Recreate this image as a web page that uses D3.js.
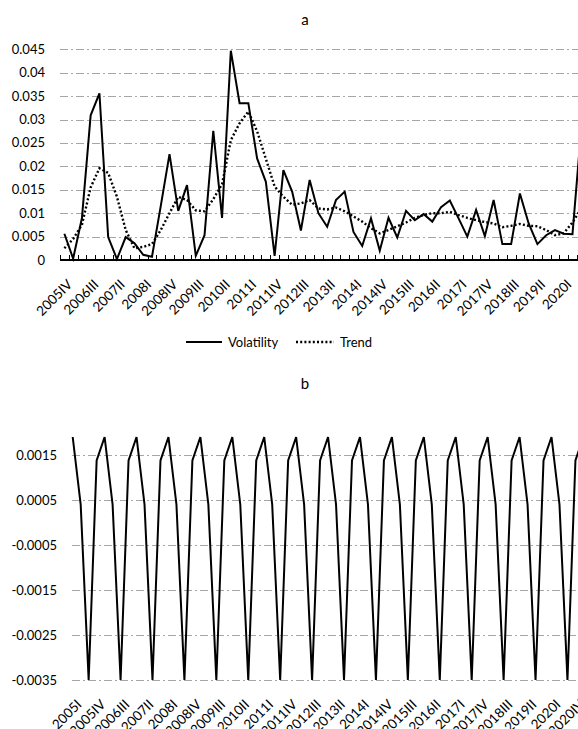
<!DOCTYPE html>
<meta charset="utf-8">
<style>
  body {
    margin: 0;
    background: #fff;
  }

  svg {
    display: block;
    font-family: Lato, "Open Sans", sans-serif;
  }

  .grid line {
    stroke: #a6a6a6;
    stroke-width: 1;
    stroke-dasharray: 8, 3, 2, 3;
  }

  .lbl {
    font-size: 13px;
    fill: #000;
  }

  .xl {
    font-size: 13.5px;
  }

  .title {
    font-size: 15px;
    fill: #000;
  }
</style>

<body>
  <div id="chart"></div>

  <script src="https://cdnjs.cloudflare.com/ajax/libs/d3/7.8.5/d3.min.js"></script>
  <script>
    // ---- data ----
    // panel a : 2005IV .. 2020III
    var quartersA = ["2005IV",
      "2006I", "2006II", "2006III", "2006IV",
      "2007I", "2007II", "2007III", "2007IV",
      "2008I", "2008II", "2008III", "2008IV",
      "2009I", "2009II", "2009III", "2009IV",
      "2010I", "2010II", "2010III", "2010IV",
      "2011I", "2011II", "2011III", "2011IV",
      "2012I", "2012II", "2012III", "2012IV",
      "2013I", "2013II", "2013III", "2013IV",
      "2014I", "2014II", "2014III", "2014IV",
      "2015I", "2015II", "2015III", "2015IV",
      "2016I", "2016II", "2016III", "2016IV",
      "2017I", "2017II", "2017III", "2017IV",
      "2018I", "2018II", "2018III", "2018IV",
      "2019I", "2019II", "2019III", "2019IV",
      "2020I", "2020II", "2020III"
    ];

    var volatility = [0.0056,
      0.0003, 0.0089, 0.0309, 0.0356,
      0.0049, 0.0002, 0.0049, 0.0036,
      0.0011, 0.0007, 0.0115, 0.0226,
      0.0105, 0.0160, 0.0009, 0.0053,
      0.0276, 0.0090, 0.0447, 0.0335,
      0.0335, 0.0217, 0.0167, 0.0009,
      0.0192, 0.0146, 0.0063, 0.0171,
      0.0100, 0.0071, 0.0128, 0.0146,
      0.0060, 0.0030, 0.0089, 0.0020,
      0.0090, 0.0048, 0.0105, 0.0085,
      0.0098, 0.0082, 0.0113, 0.0127,
      0.0089, 0.0050, 0.0107, 0.0051,
      0.0128, 0.0034, 0.0034, 0.0142,
      0.0078, 0.0034, 0.0053, 0.0064,
      0.0056, 0.0055, 0.0280
    ];

    var trend = [0.0025,
      0.0045, 0.0075, 0.0155, 0.0196,
      0.0186, 0.0135, 0.0064, 0.0025,
      0.0028, 0.0034, 0.0064, 0.0100,
      0.0135, 0.0128, 0.0106, 0.0104,
      0.0130, 0.0162, 0.0256, 0.0292,
      0.0317, 0.0275, 0.0216, 0.0157,
      0.0135, 0.0118, 0.0121, 0.0128,
      0.0110, 0.0108, 0.0112, 0.0104,
      0.0093, 0.0082, 0.0068, 0.0057,
      0.0064, 0.0072, 0.0080, 0.0090,
      0.0096, 0.0100, 0.0100, 0.0103,
      0.0096, 0.0090, 0.0085, 0.0081,
      0.0078, 0.0070, 0.0073, 0.0077,
      0.0073, 0.0072, 0.0064, 0.0053,
      0.0057, 0.0080, 0.0110
    ];

    var ticksA = [0, 0.005, 0.01, 0.015, 0.02, 0.025, 0.03, 0.035, 0.04, 0.045];
    var tickLabelsA = ["0", "0.005", "0.01", "0.015", "0.02", "0.025", "0.03", "0.035", "0.04", "0.045"];

    // panel b : 2005I .. 2021I
    var quartersB = ["2005I", "2005II", "2005III", "2005IV",
      "2006I", "2006II", "2006III", "2006IV",
      "2007I", "2007II", "2007III", "2007IV",
      "2008I", "2008II", "2008III", "2008IV",
      "2009I", "2009II", "2009III", "2009IV",
      "2010I", "2010II", "2010III", "2010IV",
      "2011I", "2011II", "2011III", "2011IV",
      "2012I", "2012II", "2012III", "2012IV",
      "2013I", "2013II", "2013III", "2013IV",
      "2014I", "2014II", "2014III", "2014IV",
      "2015I", "2015II", "2015III", "2015IV",
      "2016I", "2016II", "2016III", "2016IV",
      "2017I", "2017II", "2017III", "2017IV",
      "2018I", "2018II", "2018III", "2018IV",
      "2019I", "2019II", "2019III", "2019IV",
      "2020I", "2020II", "2020III", "2020IV",
      "2021I"
    ];

    var seasonal = [0.0019, 0.0004, -0.0035, 0.00138,
      0.0019, 0.0004, -0.0035, 0.00138,
      0.0019, 0.0004, -0.0035, 0.00138,
      0.0019, 0.0004, -0.0035, 0.00138,
      0.0019, 0.0004, -0.0035, 0.00138,
      0.0019, 0.0004, -0.0035, 0.00138,
      0.0019, 0.0004, -0.0035, 0.00138,
      0.0019, 0.0004, -0.0035, 0.00138,
      0.0019, 0.0004, -0.0035, 0.00138,
      0.0019, 0.0004, -0.0035, 0.00138,
      0.0019, 0.0004, -0.0035, 0.00138,
      0.0019, 0.0004, -0.0035, 0.00138,
      0.0019, 0.0004, -0.0035, 0.00138,
      0.0019, 0.0004, -0.0035, 0.00138,
      0.0019, 0.0004, -0.0035, 0.00138,
      0.0019, 0.0004, -0.0035, 0.00138,
      0.0019
    ];

    var ticksB = [-0.0035, -0.0025, -0.0015, -0.0005, 0.0005, 0.0015];
    var tickLabelsB = ["-0.0035", "-0.0025", "-0.0015", "-0.0005", "0.0005", "0.0015"];

    // ---- svg ----
    var W = 578, H = 729;
    var svg = d3.select("#chart")
      .append("svg")
      .attr("width", W)
      .attr("height", H);

    // ============ panel a ============
    var ax0 = 60, ax1 = ax0 + 8.76 * quartersA.length,
      aTop = 49.3, aBot = 260;

    var xa = d3.scaleBand()
      .domain(quartersA)
      .range([ax0, ax1]);

    var ya = d3.scaleLinear()
      .domain([0, 0.045])
      .range([aBot, aTop]);

    svg.append("text")
      .attr("class", "title")
      .attr("x", 305)
      .attr("y", 25)
      .attr("text-anchor", "middle")
      .text("a");

    // gridlines (skip zero, the axis sits there)
    var gA = svg.append("g").attr("class", "grid");
    gA.selectAll("line")
      .data(ticksA.filter(function(d) { return d > 0; }))
      .enter().append("line")
      .attr("x1", ax0)
      .attr("x2", ax1)
      .attr("y1", function(d) { return Math.round(ya(d)) + 0.5; })
      .attr("y2", function(d) { return Math.round(ya(d)) + 0.5; });

    // y labels
    svg.append("g").selectAll("text")
      .data(ticksA)
      .enter().append("text")
      .attr("class", "lbl")
      .attr("x", 45)
      .attr("y", function(d) { return ya(d); })
      .attr("dy", "0.35em")
      .attr("text-anchor", "end")
      .text(function(d, i) { return tickLabelsA[i]; });

    var lineA = function(vals) {
      return d3.line()
        .x(function(d, i) { return xa(quartersA[i]) + xa.bandwidth() / 2; })
        .y(function(d) { return ya(d); })(vals);
    };

    svg.append("path")
      .attr("d", lineA(trend))
      .attr("fill", "none")
      .attr("stroke", "#000")
      .attr("stroke-width", 2.4)
      .attr("stroke-dasharray", "2,2.2");

    svg.append("path")
      .attr("d", lineA(volatility))
      .attr("fill", "none")
      .attr("stroke", "#000")
      .attr("stroke-width", 2)
      .attr("stroke-linejoin", "miter");

    // x axis line with inside ticks
    var axA = svg.append("g");
    axA.append("line")
      .attr("x1", ax0)
      .attr("x2", ax1)
      .attr("y1", aBot)
      .attr("y2", aBot)
      .attr("stroke", "#000")
      .attr("stroke-width", 2);
    axA.selectAll(".tk")
      .data(d3.range(quartersA.length + 1))
      .enter().append("line")
      .attr("class", "tk")
      .attr("x1", function(k) { return Math.round(ax0 + xa.step() * k) + 0.5; })
      .attr("x2", function(k) { return Math.round(ax0 + xa.step() * k) + 0.5; })
      .attr("y1", aBot)
      .attr("y2", aBot - 5)
      .attr("stroke", "#000")
      .attr("stroke-width", 1);

    axA.selectAll(".xl")
      .data(quartersA.filter(function(d, i) { return i % 3 === 0; }))
      .enter().append("text")
      .attr("class", "lbl xl")
      .attr("text-anchor", "end")
      .attr("dy", "0.35em")
      .attr("transform", function(d) {
        return "translate(" + (xa(d) + xa.bandwidth() / 2 + 5.5) + "," + (aBot + 22) + ") rotate(-45)";
      })
      .text(function(d) { return d; });

    // legend
    var lg = svg.append("g").attr("transform", "translate(0,342)");
    lg.append("line")
      .attr("x1", 186).attr("x2", 222).attr("y1", 0).attr("y2", 0)
      .attr("stroke", "#000").attr("stroke-width", 2);
    lg.append("text").attr("class", "lbl")
      .attr("x", 228).attr("dy", "0.35em").text("Volatility");
    lg.append("line")
      .attr("x1", 296).attr("x2", 334).attr("y1", 0).attr("y2", 0)
      .attr("stroke", "#000").attr("stroke-width", 2.4)
      .attr("stroke-dasharray", "2,2.2");
    lg.append("text").attr("class", "lbl")
      .attr("x", 340).attr("dy", "0.35em").text("Trend");

    // ============ panel b ============
    var bx0 = 72.7, bStep = 7.98;
    var bTop = 432.5, bBot = 680;

    var xb = d3.scalePoint()
      .domain(quartersB)
      .range([bx0, bx0 + bStep * (quartersB.length - 1)]);

    var yb = d3.scaleLinear()
      .domain([-0.0035, 0.002])
      .range([bBot, bTop]);

    svg.append("text")
      .attr("class", "title")
      .attr("x", 305)
      .attr("y", 389)
      .attr("text-anchor", "middle")
      .text("b");

    var gB = svg.append("g").attr("class", "grid");
    gB.selectAll("line")
      .data(ticksB)
      .enter().append("line")
      .attr("x1", 72)
      .attr("x2", W + 20)
      .attr("y1", function(d) { return Math.round(yb(d)) + 0.5; })
      .attr("y2", function(d) { return Math.round(yb(d)) + 0.5; });

    svg.append("g").selectAll("text")
      .data(ticksB)
      .enter().append("text")
      .attr("class", "lbl")
      .attr("x", 57)
      .attr("y", function(d) { return yb(d); })
      .attr("dy", "0.35em")
      .attr("text-anchor", "end")
      .text(function(d, i) { return tickLabelsB[i]; });

    svg.append("path")
      .attr("d", d3.line()
        .x(function(d, i) { return xb(quartersB[i]); })
        .y(function(d) { return yb(d); })(seasonal))
      .attr("fill", "none")
      .attr("stroke", "#000")
      .attr("stroke-width", 2)
      .attr("stroke-linejoin", "miter");

    svg.append("g").selectAll("text")
      .data(quartersB.filter(function(d, i) { return i % 3 === 0 && i < 64; }))
      .enter().append("text")
      .attr("class", "lbl xl")
      .attr("text-anchor", "end")
      .attr("dy", "0.35em")
      .attr("transform", function(d) {
        return "translate(" + (xb(d) + 6.5) + "," + (bBot + 22) + ") rotate(-45)";
      })
      .text(function(d) { return d; });
  </script>
</body>
